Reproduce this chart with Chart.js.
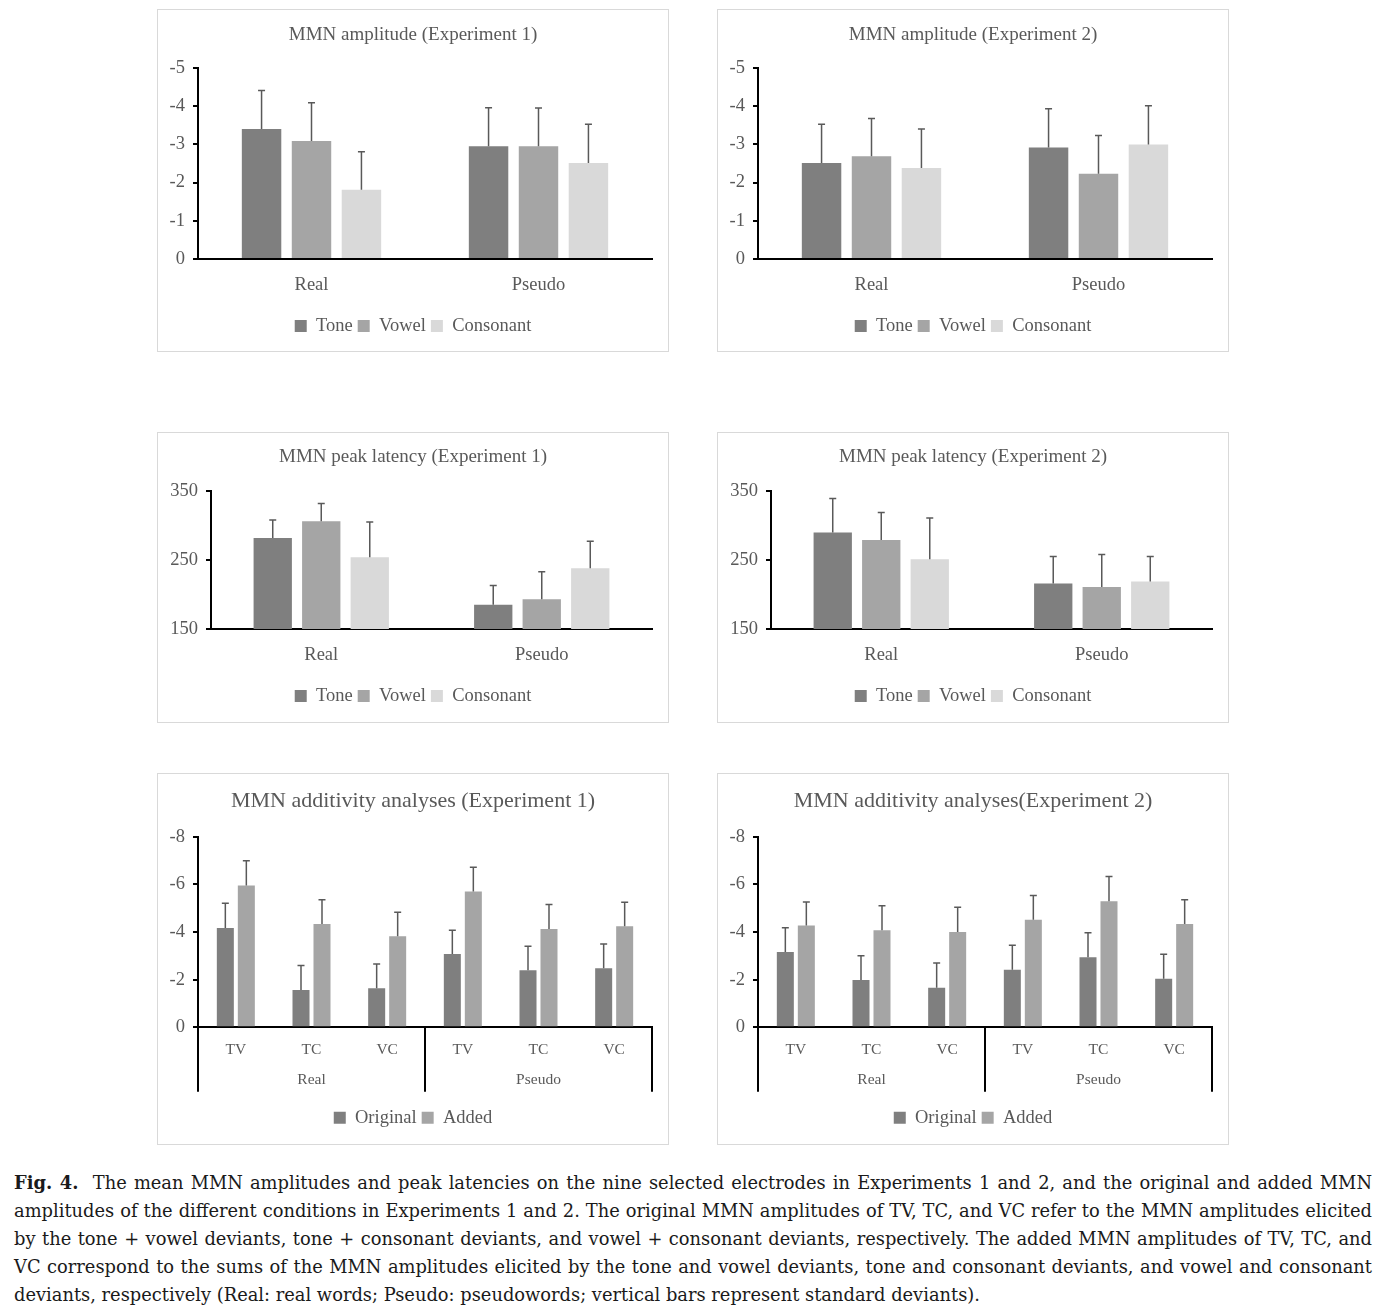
<!DOCTYPE html>
<html>
<head>
<meta charset="utf-8">
<title>MMN amplitudes and latencies</title>
<script src="https://cdn.jsdelivr.net/npm/chart.js@4.4.1/dist/chart.umd.min.js"></script>
<style>
  body { margin: 0; background: #fff; width: 1395px; height: 1312px; position: relative; overflow: hidden; }
  .panel { position: absolute; border: 1px solid #d9d9d9; background: #fff; }
  .panel canvas { display: block; }
  #caption { position: absolute; left: 14px; top: 1169px; width: 1358px; margin: 0;
    font-family: "DejaVu Serif", serif; font-size: 17.85px; line-height: 28px; color: #1a1a1a; }
  #caption span { display: block; text-align: justify; text-align-last: justify; white-space: nowrap; }
  #caption span.last { text-align-last: left; }
</style>
</head>
<body>

<div class="panel" style="left:157px; top:9px;"><canvas id="amp1" width="510" height="341"></canvas></div>
<div class="panel" style="left:717px; top:9px;"><canvas id="amp2" width="510" height="341"></canvas></div>
<div class="panel" style="left:157px; top:432px;"><canvas id="lat1" width="510" height="289"></canvas></div>
<div class="panel" style="left:717px; top:432px;"><canvas id="lat2" width="510" height="289"></canvas></div>
<div class="panel" style="left:157px; top:773px;"><canvas id="add1" width="510" height="370"></canvas></div>
<div class="panel" style="left:717px; top:773px;"><canvas id="add2" width="510" height="370"></canvas></div>

<p id="caption">
  <span><b>Fig. 4.</b>&nbsp; The mean MMN amplitudes and peak latencies on the nine selected electrodes in Experiments 1 and 2, and the original and added MMN</span>
  <span>amplitudes of the different conditions in Experiments 1 and 2. The original MMN amplitudes of TV, TC, and VC refer to the MMN amplitudes elicited</span>
  <span>by the tone + vowel deviants, tone + consonant deviants, and vowel + consonant deviants, respectively. The added MMN amplitudes of TV, TC, and</span>
  <span>VC correspond to the sums of the MMN amplitudes elicited by the tone and vowel deviants, tone and consonant deviants, and vowel and consonant</span>
  <span class="last">deviants, respectively (Real: real words; Pseudo: pseudowords; vertical bars represent standard deviants).</span>
</p>

<script>
// categories / legend names
const wordTypes = ["Real", "Pseudo"];
const pairLabels = ["TV", "TC", "VC", "TV", "TC", "VC"];
const featureNames = ["Tone", "Vowel", "Consonant"];
const additivityNames = ["Original", "Added"];

// MMN amplitude, Experiment 1 (Real, Pseudo)
const amp1Tone = [-3.40, -2.95];
const amp1Vowel = [-3.09, -2.95];
const amp1Consonant = [-1.81, -2.51];
const amp1ToneSD = [1.01, 1.01];
const amp1VowelSD = [1.00, 1.00];
const amp1ConsonantSD = [1.00, 1.02];

// MMN amplitude, Experiment 2
const amp2Tone = [-2.51, -2.92];
const amp2Vowel = [-2.69, -2.23];
const amp2Consonant = [-2.38, -3.00];
const amp2ToneSD = [1.02, 1.01];
const amp2VowelSD = [0.99, 1.00];
const amp2ConsonantSD = [1.02, 1.01];

// MMN peak latency (ms), Experiment 1
const lat1Tone = [282, 185];
const lat1Vowel = [306, 193];
const lat1Consonant = [254, 238];
const lat1ToneSD = [26, 28];
const lat1VowelSD = [26, 40];
const lat1ConsonantSD = [51, 39];

// MMN peak latency (ms), Experiment 2
const lat2Tone = [290, 216];
const lat2Vowel = [279, 211];
const lat2Consonant = [251, 219];
const lat2ToneSD = [49, 39];
const lat2VowelSD = [40, 47];
const lat2ConsonantSD = [60, 36];

// additivity, Experiment 1 (TV, TC, VC real / TV, TC, VC pseudo)
const add1Original = [-4.17, -1.57, -1.64, -3.08, -2.39, -2.48];
const add1Added = [-5.95, -4.34, -3.82, -5.70, -4.13, -4.24];
const add1OriginalSD = [1.04, 1.02, 1.02, 0.99, 1.01, 1.02];
const add1AddedSD = [1.04, 1.01, 1.01, 1.02, 1.02, 1.01];

// additivity, Experiment 2
const add2Original = [-3.16, -1.99, -1.66, -2.42, -2.94, -2.04];
const add2Added = [-4.27, -4.07, -4.00, -4.51, -5.29, -4.34];
const add2OriginalSD = [1.02, 1.01, 1.04, 1.02, 1.03, 1.03];
const add2AddedSD = [0.99, 1.03, 1.04, 1.02, 1.04, 1.01];

const TEXT = "#595959";
const SHADES = ["#7f7f7f", "#a5a5a5", "#d9d9d9"];
const FONT = "'Liberation Serif', 'Times New Roman', serif";

Chart.defaults.font.family = FONT;
Chart.defaults.color = TEXT;
Chart.defaults.animation = false;

// one-sided SD whiskers, drawn away from zero
const errorBars = {
  id: "errorBars",
  afterDatasetsDraw(chart) {
    const ctx = chart.ctx;
    const y = chart.scales.y;
    chart.data.datasets.forEach((ds, i) => {
      const meta = chart.getDatasetMeta(i);
      meta.data.forEach((bar, j) => {
        const v = ds.data[j];
        const end = y.getPixelForValue(v + Math.sign(v) * ds.sd[j]);
        ctx.save();
        ctx.strokeStyle = "#595959";
        ctx.lineWidth = 1.5;
        ctx.beginPath();
        ctx.moveTo(bar.x, bar.y);
        ctx.lineTo(bar.x, end);
        ctx.moveTo(bar.x - 3.5, end);
        ctx.lineTo(bar.x + 3.5, end);
        ctx.stroke();
        ctx.restore();
      });
    });
  }
};

// vertical dividers between Real / Pseudo groups of the two-level axis
const groupDividers = {
  id: "groupDividers",
  afterDraw(chart, args, opts) {
    const x = chart.scales.x, g = chart.scales.x2;
    if (!g) return;
    const n = chart.data.labels.length, groups = g.getLabels().length, per = n / groups;
    const edges = [x.left];
    for (let k = 1; k < groups; k++) {
      edges.push((x.getPixelForValue(k * per - 1) + x.getPixelForValue(k * per)) / 2);
    }
    edges.push(x.right);
    const top = chart.chartArea.bottom;
    const ctx = chart.ctx;
    ctx.save();
    ctx.strokeStyle = "#000";
    ctx.lineWidth = 2;
    ctx.beginPath();
    edges.forEach(px => { ctx.moveTo(px, top); ctx.lineTo(px, top + opts.depth); });
    ctx.stroke();
    ctx.restore();
  }
};

function makeChart(id, cfg) {
  const canvas = document.getElementById(id);
  const W = canvas.width, H = canvas.height;
  const a = cfg.area;
  const titleLH = cfg.titleSize * 1.2;
  const labelLH = cfg.labelSize * 1.2;
  const legItem = 18.5, legPad = 5;
  const legTop = cfg.legendY - legPad - legItem / 2;
  const legH = legItem + legPad + 10;
  const xH = cfg.groups ? cfg.pairRowH : legTop - a.bottom;

  const scales = {
    x: {
      type: "category", offset: true, weight: 0,
      grid: { display: false, drawTicks: false },
      border: { display: true, color: "#000", width: 2 },
      ticks: { font: { size: cfg.labelSize }, color: TEXT, maxRotation: 0, autoSkip: false,
               padding: cfg.labelY - a.bottom - labelLH / 2 },
      afterFit: s => { s.height = xH; }
    },
    y: {
      min: cfg.yMin, max: cfg.yMax, reverse: cfg.reverse,
      grid: { drawOnChartArea: false, drawTicks: true, tickLength: 5, color: "#000", lineWidth: 2 },
      border: { display: true, color: "#000", width: 2 },
      ticks: { stepSize: cfg.yStep, font: { size: 18.5 }, color: TEXT, padding: 8 },
      afterFit: s => { s.width = a.left; }
    },
    // empty right-hand strip so the title and legend stay centred on the panel
    yPad: {
      position: "right", display: true,
      grid: { display: false, drawTicks: false }, border: { display: false }, ticks: { display: false },
      afterFit: s => { s.width = W - a.right; }
    }
  };
  if (cfg.groups) {
    scales.x2 = {
      type: "category", labels: cfg.groups, offset: true, position: "bottom", weight: 1,
      grid: { display: false, drawTicks: false }, border: { display: false },
      ticks: { font: { size: cfg.labelSize }, color: TEXT, maxRotation: 0,
               padding: cfg.groupY - a.bottom - xH - labelLH / 2 },
      afterFit: s => { s.height = legTop - a.bottom - xH; }
    };
  }

  return new Chart(canvas, {
    type: "bar",
    data: {
      labels: cfg.labels,
      datasets: cfg.series.map(s => ({
        label: s.name, data: s.values, sd: s.sd,
        backgroundColor: s.color, borderWidth: 0,
        categoryPercentage: cfg.catPct, barPercentage: cfg.barPct,
        xAxisID: "x", yAxisID: "y"
      }))
    },
    options: {
      responsive: false,
      devicePixelRatio: 1,
      layout: { padding: { left: 0, right: 0, top: 0, bottom: H - legTop - legH } },
      scales,
      plugins: {
        title: {
          display: true, text: cfg.title, color: TEXT,
          font: { size: cfg.titleSize, weight: "normal" },
          padding: { top: cfg.titleY - titleLH / 2, bottom: a.top - cfg.titleY - titleLH / 2 }
        },
        legend: {
          position: "bottom",
          labels: { boxWidth: 12, boxHeight: 12, padding: legPad, color: TEXT, font: { size: legItem } }
        },
        tooltip: { enabled: false },
        groupDividers: { depth: cfg.dividerDepth || 0 }
      }
    },
    plugins: [errorBars, groupDividers]
  });
}

const ampLayout = { area: { left: 40, right: 494, top: 58, bottom: 249 }, titleY: 25, labelY: 275, legendY: 316,
  titleSize: 19, labelSize: 18.5, catPct: 0.66, barPct: 0.79, yMin: -5, yMax: 0, yStep: 1, reverse: true };
const latLayout = { area: { left: 53, right: 494, top: 58, bottom: 196 }, titleY: 24, labelY: 222, legendY: 263,
  titleSize: 19, labelSize: 18.5, catPct: 0.66, barPct: 0.79, yMin: 150, yMax: 350, yStep: 100, reverse: false };
const addLayout = { area: { left: 40, right: 494, top: 62.7, bottom: 253.3 }, titleY: 27.7, labelY: 276.3,
  groupY: 306, pairRowH: 35, legendY: 343.7, dividerDepth: 64.4,
  titleSize: 22, labelSize: 15.5, catPct: 0.555, barPct: 0.81, yMin: -8, yMax: 0, yStep: 2, reverse: true };

function features(t, v, c, tsd, vsd, csd) {
  return [
    { name: featureNames[0], values: t, sd: tsd, color: SHADES[0] },
    { name: featureNames[1], values: v, sd: vsd, color: SHADES[1] },
    { name: featureNames[2], values: c, sd: csd, color: SHADES[2] }
  ];
}
function additivity(o, ad, osd, adsd) {
  return [
    { name: additivityNames[0], values: o, sd: osd, color: SHADES[0] },
    { name: additivityNames[1], values: ad, sd: adsd, color: SHADES[1] }
  ];
}

makeChart("amp1", Object.assign({}, ampLayout, { title: "MMN amplitude (Experiment 1)", labels: wordTypes,
  series: features(amp1Tone, amp1Vowel, amp1Consonant, amp1ToneSD, amp1VowelSD, amp1ConsonantSD) }));
makeChart("amp2", Object.assign({}, ampLayout, { title: "MMN amplitude (Experiment 2)", labels: wordTypes,
  series: features(amp2Tone, amp2Vowel, amp2Consonant, amp2ToneSD, amp2VowelSD, amp2ConsonantSD) }));
makeChart("lat1", Object.assign({}, latLayout, { title: "MMN peak latency (Experiment 1)", labels: wordTypes,
  series: features(lat1Tone, lat1Vowel, lat1Consonant, lat1ToneSD, lat1VowelSD, lat1ConsonantSD) }));
makeChart("lat2", Object.assign({}, latLayout, { title: "MMN peak latency (Experiment 2)", labels: wordTypes,
  series: features(lat2Tone, lat2Vowel, lat2Consonant, lat2ToneSD, lat2VowelSD, lat2ConsonantSD) }));
makeChart("add1", Object.assign({}, addLayout, { title: "MMN additivity analyses (Experiment 1)", labels: pairLabels,
  groups: wordTypes, series: additivity(add1Original, add1Added, add1OriginalSD, add1AddedSD) }));
makeChart("add2", Object.assign({}, addLayout, { title: "MMN additivity analyses(Experiment 2)", labels: pairLabels,
  groups: wordTypes, series: additivity(add2Original, add2Added, add2OriginalSD, add2AddedSD) }));
</script>
</body>
</html>
